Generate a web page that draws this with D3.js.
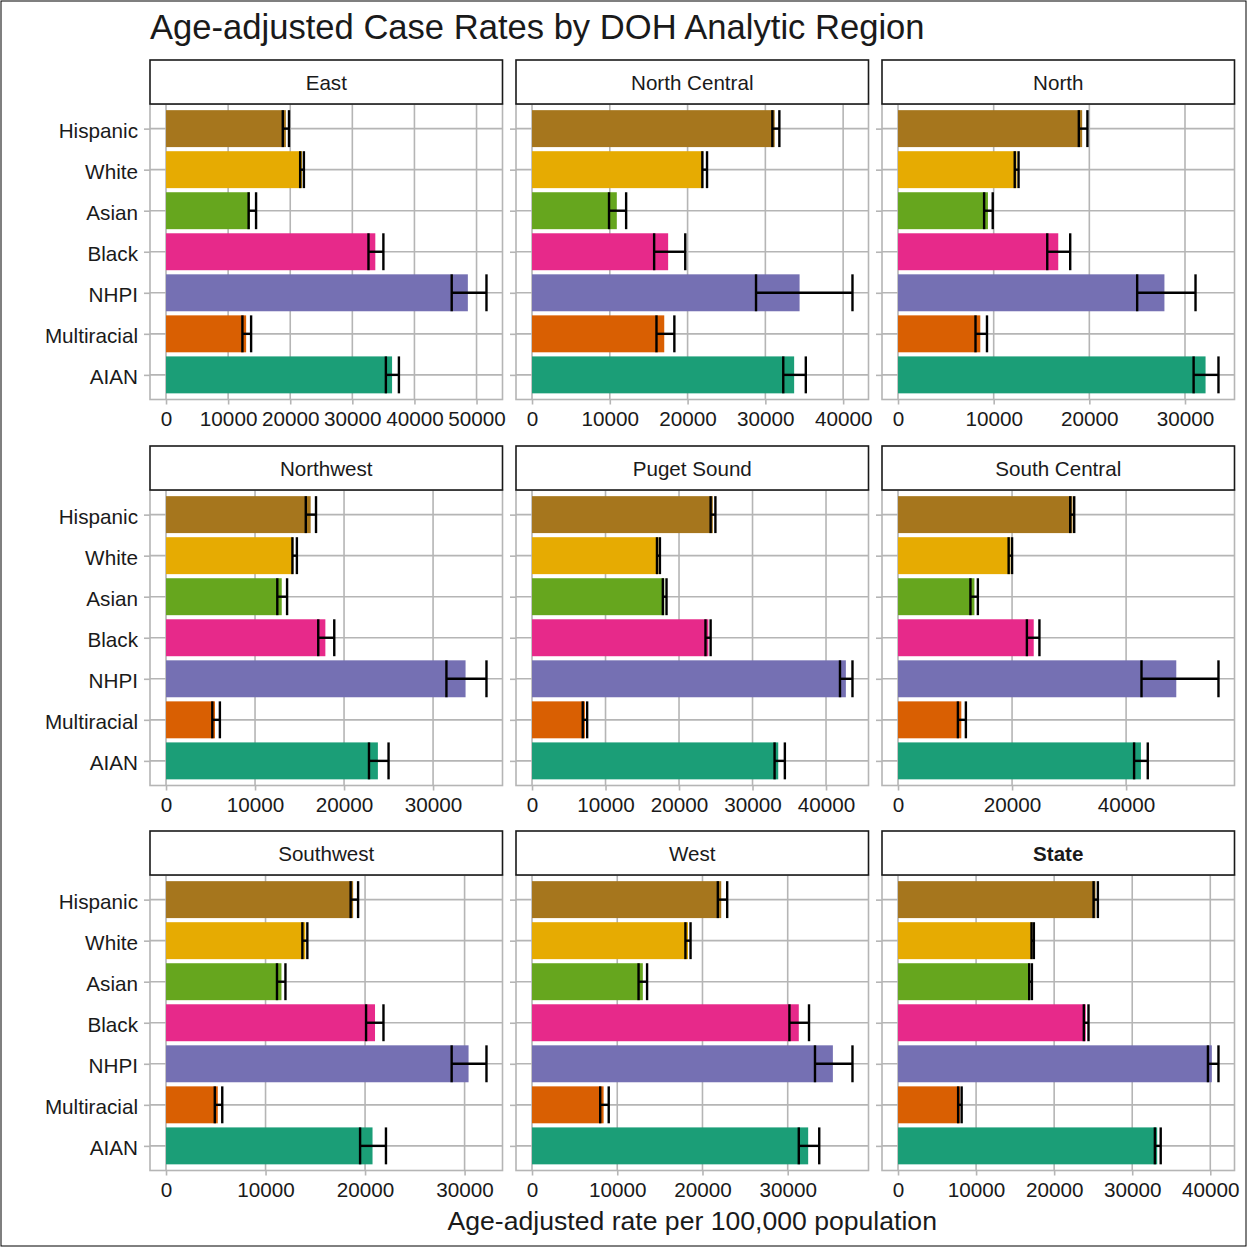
<!DOCTYPE html>
<html>
<head>
<meta charset="utf-8">
<script src="https://cdn.jsdelivr.net/npm/d3@7"></script>
<style>
  body { margin: 0; background: #fff; }
  text { font-family: "Liberation Sans", Arial, sans-serif; fill: #1a1a1a; }
</style>
</head>
<body>
<div id="chart"></div>
<script>
// categories (top to bottom) and their colours
const groups = ["Hispanic", "White", "Asian", "Black", "NHPI", "Multiracial", "AIAN"];
const groupColors = ["#A6761D", "#E6AB02", "#66A61E", "#E7298A", "#7570B3", "#D95F02", "#1B9E77"];

const regions = ["East", "North Central", "North", "Northwest", "Puget Sound",
                 "South Central", "Southwest", "West", "State"];

// age-adjusted rate, lower and upper CI, one row per region (order of groups)
const rateEast         = [19300, 21900, 13500, 33700, 48600, 12900, 36400];
const lowerEast        = [18800, 21600, 13300, 32600, 46000, 12300, 35400];
const upperEast        = [19800, 22200, 14500, 35000, 51600, 13700, 37500];

const rateNorthCentral  = [31200, 22000, 10900, 17500, 34400, 17000, 33700];
const lowerNorthCentral = [30900, 21900, 9900, 15700, 28800, 16000, 32300];
const upperNorthCentral = [31800, 22500, 12100, 19700, 41200, 18300, 35200];

const rateNorth        = [19250, 12400, 9400, 16750, 27850, 8600, 32150];
const lowerNorth       = [18900, 12200, 9000, 15600, 25000, 8100, 30900];
const upperNorth       = [19800, 12600, 9900, 18000, 31100, 9300, 33500];

const rateNorthwest    = [16250, 14300, 13000, 17900, 33650, 5500, 23800];
const lowerNorthwest   = [15700, 14200, 12500, 17100, 31500, 5200, 22800];
const upperNorthwest   = [16850, 14700, 13600, 18900, 36000, 6050, 25000];

const ratePugetSound   = [24600, 17200, 18000, 24000, 42700, 7200, 33500];
const lowerPugetSound  = [24300, 17000, 17800, 23600, 41900, 6900, 33000];
const upperPugetSound  = [24950, 17400, 18300, 24300, 43600, 7500, 34400];

const rateSouthCentral  = [30600, 19700, 13400, 23800, 48800, 11100, 42600];
const lowerSouthCentral = [30200, 19400, 12700, 22600, 42700, 10500, 41400];
const upperSouthCentral = [30900, 20000, 14000, 24800, 56200, 11900, 43800];

const rateSouthwest    = [18800, 14000, 11600, 21000, 30400, 5200, 20750];
const lowerSouthwest   = [18550, 13700, 11150, 20100, 28700, 4900, 19500];
const upperSouthwest   = [19300, 14200, 12000, 21850, 32200, 5650, 22100];

const rateWest         = [22200, 18300, 13000, 31300, 35300, 8400, 32400];
const lowerWest        = [21800, 18000, 12500, 30200, 33200, 8000, 31300];
const upperWest        = [22900, 18600, 13500, 32500, 37600, 9000, 33700];

const rateState        = [25300, 17200, 16900, 24050, 40200, 7950, 33200];
const lowerState       = [25050, 17100, 16800, 23800, 39700, 7700, 32900];
const upperState       = [25600, 17400, 17150, 24400, 41050, 8150, 33650];

// x tick values per panel
const ticksEast = [0, 10000, 20000, 30000, 40000, 50000];
const ticksNorthCentral = [0, 10000, 20000, 30000, 40000];
const ticksNorth = [0, 10000, 20000, 30000];
const ticksNorthwest = [0, 10000, 20000, 30000];
const ticksPugetSound = [0, 10000, 20000, 30000, 40000];
const ticksSouthCentral = [0, 20000, 40000];
const ticksSouthwest = [0, 10000, 20000, 30000];
const ticksWest = [0, 10000, 20000, 30000];
const ticksState = [0, 10000, 20000, 30000, 40000];

const panelRates = [rateEast, rateNorthCentral, rateNorth, rateNorthwest, ratePugetSound,
                    rateSouthCentral, rateSouthwest, rateWest, rateState];
const panelLower = [lowerEast, lowerNorthCentral, lowerNorth, lowerNorthwest, lowerPugetSound,
                    lowerSouthCentral, lowerSouthwest, lowerWest, lowerState];
const panelUpper = [upperEast, upperNorthCentral, upperNorth, upperNorthwest, upperPugetSound,
                    upperSouthCentral, upperSouthwest, upperWest, upperState];
const panelTicks = [ticksEast, ticksNorthCentral, ticksNorth, ticksNorthwest, ticksPugetSound,
                    ticksSouthCentral, ticksSouthwest, ticksWest, ticksState];

(function (d3) {
  "use strict";
  const W = 1247, H = 1247;
  const colX = [150, 516, 882];
  const rowY = [60, 446, 831];
  const panelW = 352.5, stripH = 44, plotH = 295.5;
  const gridColor = "#b5b5b5";
  const labelSize = 20.7;

  const svg = d3.select("#chart").append("svg")
    .attr("width", W).attr("height", H);

  svg.append("rect")
    .attr("x", 1).attr("y", 1).attr("width", W - 2).attr("height", H - 2)
    .attr("fill", "#fff").attr("stroke", "#000").attr("stroke-width", 1);

  svg.append("text")
    .attr("x", 150).attr("y", 39)
    .attr("font-size", 34.6)
    .text("Age-adjusted Case Rates by DOH Analytic Region");

  const color = d3.scaleOrdinal().domain(groups).range(groupColors);

  regions.forEach((region, i) => {
    const px = colX[i % 3], py = rowY[Math.floor(i / 3)];
    const g = svg.append("g").attr("transform", "translate(" + px + "," + (py + stripH) + ")");

    const rows = groups.map((grp, j) => ({
      group: grp, rate: panelRates[i][j], lo: panelLower[i][j], hi: panelUpper[i][j]
    }));

    // ggplot-style 5% expansion
    const maxV = d3.max(rows, d => d.hi);
    const x = d3.scaleLinear().domain([-0.05 * maxV, 1.05 * maxV]).range([0, panelW]);
    const y = d3.scalePoint().domain(groups).range([0, plotH]).padding(0.6);
    const barH = y.step() * 0.9;

    // grid
    g.append("g").selectAll("line.v").data(panelTicks[i]).join("line")
      .attr("x1", d => x(d)).attr("x2", d => x(d))
      .attr("y1", 0).attr("y2", plotH)
      .attr("stroke", gridColor).attr("stroke-width", 1.6);
    g.append("g").selectAll("line.h").data(groups).join("line")
      .attr("x1", 0).attr("x2", panelW)
      .attr("y1", d => y(d)).attr("y2", d => y(d))
      .attr("stroke", gridColor).attr("stroke-width", 1.6);

    // bars
    g.append("g").selectAll("rect").data(rows).join("rect")
      .attr("x", x(0))
      .attr("y", d => y(d.group) - barH / 2)
      .attr("width", d => x(d.rate) - x(0))
      .attr("height", barH)
      .attr("fill", d => color(d.group));

    // error bars
    const eb = g.append("g").attr("stroke", "#000").attr("stroke-width", 2.4).attr("fill", "none");
    rows.forEach(d => {
      const yc = y(d.group);
      eb.append("line").attr("x1", x(d.lo)).attr("x2", x(d.hi)).attr("y1", yc).attr("y2", yc);
      eb.append("line").attr("x1", x(d.lo)).attr("x2", x(d.lo)).attr("y1", yc - barH / 2).attr("y2", yc + barH / 2);
      eb.append("line").attr("x1", x(d.hi)).attr("x2", x(d.hi)).attr("y1", yc - barH / 2).attr("y2", yc + barH / 2);
    });

    // panel border
    g.append("rect").attr("x", 0).attr("y", 0).attr("width", panelW).attr("height", plotH)
      .attr("fill", "none").attr("stroke", gridColor).attr("stroke-width", 1.6);

    // x axis
    const xAxis = g.append("g").attr("transform", "translate(0," + plotH + ")")
      .call(d3.axisBottom(x).tickValues(panelTicks[i]).tickFormat(d3.format("d")).tickSize(5).tickPadding(7));
    xAxis.select(".domain").remove();
    xAxis.selectAll(".tick line").attr("stroke", gridColor).attr("stroke-width", 1.6);
    xAxis.selectAll(".tick text").attr("font-size", labelSize).attr("fill", "#1a1a1a")
      .attr("font-family", "Liberation Sans, Arial, sans-serif");

    // y axis, labels only on the first column
    const yAxis = g.append("g")
      .call(d3.axisLeft(y).tickSize(6).tickPadding(6));
    yAxis.select(".domain").remove();
    yAxis.selectAll(".tick line").attr("stroke", gridColor).attr("stroke-width", 1.6);
    if (i % 3 === 0) {
      yAxis.selectAll(".tick text").attr("font-size", labelSize).attr("fill", "#1a1a1a")
        .attr("dy", "0.42em")
        .attr("font-family", "Liberation Sans, Arial, sans-serif");
    } else {
      yAxis.selectAll(".tick text").remove();
    }

    // strip
    const s = svg.append("g").attr("transform", "translate(" + px + "," + py + ")");
    s.append("rect").attr("x", 0).attr("y", 0).attr("width", panelW).attr("height", stripH)
      .attr("fill", "#fff").attr("stroke", "#1a1a1a").attr("stroke-width", 1.6);
    s.append("text").attr("x", panelW / 2).attr("y", stripH / 2 + 7.5)
      .attr("text-anchor", "middle").attr("font-size", 20.6)
      .attr("font-weight", region === "State" ? "bold" : "normal")
      .text(region);
  });

  svg.append("text")
    .attr("x", (colX[0] + colX[2] + panelW) / 2).attr("y", 1230)
    .attr("text-anchor", "middle").attr("font-size", 26.6)
    .text("Age-adjusted rate per 100,000 population");
})(d3);
</script>
</body>
</html>
